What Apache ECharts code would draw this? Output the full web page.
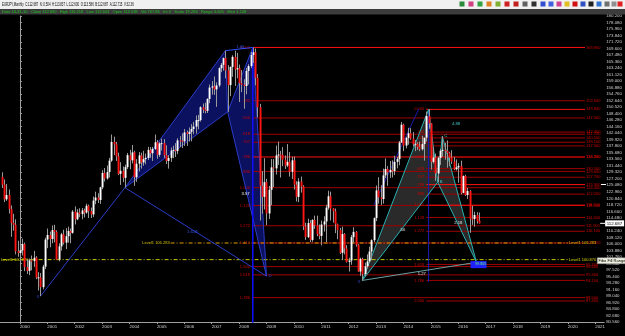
<!DOCTYPE html>
<html><head><meta charset="utf-8">
<script src="https://cdn.jsdelivr.net/npm/echarts@6/dist/echarts.min.js"></script>
<style>html,body{margin:0;padding:0;background:#000}#c{width:625px;height:336px}</style>
</head><body><div id="c"></div><script>
// ---- DATA ----
// month index m = months since Jan 2000; first bar = May 1999 (m = -8)
const firstMonth = -8;
const y1999 = [[127.8,129.3,124.2,125.3],[125.3,127.0,119.6,120.5],[120.5,125.5,120.0,121.9],[121.9,123.7,115.9,117.3],[117.3,118.5,108.3,112.8],[112.8,115.8,110.3,112.2],[112.2,114.0,102.6,103.6],[103.6,107.0,101.8,103.0]];
const y2000 = [[103.0,106.6,100.4,103.9],[103.9,107.7,102.2,105.9],[105.9,106.4,97.1,98.5],[98.5,101.0,96.2,97.2],[97.2,101.2,95.8,100.6],[100.6,102.2,97.4,100.4],[100.4,103.7,98.5,101.5],[101.5,102.0,94.5,95.0],[95.0,96.8,90.8,95.1],[95.1,96.5,88.97,91.9],[91.9,99.2,91.2,98.6],[98.6,108.0,97.8,107.4]];
const y2001 = [[107.4,111.0,104.6,108.9],[108.9,110.0,104.9,107.6],[107.6,112.0,106.2,110.5],[110.5,112.2,106.5,109.9],[109.9,110.4,100.9,100.9],[100.9,106.2,100.3,105.2],[105.2,109.6,103.8,109.1],[109.1,110.6,105.8,106.4],[106.4,111.1,104.3,108.5],[108.5,111.6,106.4,110.2],[110.2,111.0,106.2,109.6],[109.6,117.0,109.3,116.5]];
const y2002 = [[116.5,118.2,112.3,114.0],[114.0,117.3,113.7,116.2],[116.2,117.6,114.7,115.7],[115.7,117.7,114.0,116.9],[116.9,117.5,114.6,116.2],[116.2,119.1,115.8,118.4],[118.4,118.8,114.4,116.7],[116.7,117.8,114.4,115.6],[115.6,121.4,114.7,120.1],[120.1,123.0,118.9,121.1],[121.1,122.5,119.3,120.3],[120.3,124.6,119.0,124.4]];
const y2003 = [[124.4,130.0,123.8,129.1],[129.1,130.7,126.3,127.3],[127.3,131.5,126.9,129.4],[129.4,134.0,127.6,133.1],[133.1,141.6,132.7,139.2],[139.2,140.9,134.9,138.4],[138.4,139.2,133.0,134.5],[134.5,135.7,128.4,128.8],[128.8,132.6,125.2,129.8],[129.8,131.2,126.1,127.5],[127.5,131.8,124.3,131.0],[131.0,135.6,130.4,134.9]];
const y2004 = [[134.9,136.6,130.3,133.2],[133.2,138.2,132.2,135.8],[135.8,136.3,124.9,127.7],[127.7,133.6,126.2,132.1],[132.1,135.9,129.6,134.8],[134.8,135.7,130.5,132.5],[132.5,136.3,131.4,133.6],[133.6,135.4,131.9,134.0],[134.0,137.6,133.3,136.6],[136.6,137.5,134.0,135.5],[135.5,137.6,133.0,136.9],[136.9,141.6,136.6,139.1]];
const y2005 = [[139.1,139.8,133.7,135.0],[135.0,139.1,134.3,138.7],[138.7,140.3,136.4,138.8],[138.8,140.1,134.0,134.9],[134.9,138.1,132.0,133.0],[133.0,134.9,130.5,134.0],[134.0,137.4,132.7,136.4],[136.4,138.0,133.9,136.6],[136.6,138.8,134.3,136.2],[136.2,140.4,135.2,139.7],[139.7,141.1,137.5,139.6],[139.6,142.0,137.2,139.4]];
const y2006 = [[139.4,143.4,137.9,142.3],[142.3,142.9,137.9,141.8],[141.8,143.9,139.3,142.5],[142.5,145.0,139.4,143.4],[143.4,145.7,141.7,144.2],[144.2,147.8,141.9,146.3],[146.3,148.0,143.3,146.3],[146.3,150.8,145.8,150.5],[150.5,151.7,148.6,149.7],[149.7,152.0,148.5,149.3],[149.3,153.4,148.6,153.2],[153.2,157.9,151.8,156.9]];
const y2007 = [[156.9,159.0,154.6,157.3],[157.3,160.5,154.5,156.3],[156.3,158.6,150.6,157.6],[157.6,163.5,157.0,163.2],[163.2,164.9,161.9,164.3],[164.3,166.7,162.4,166.5],[166.5,168.9,159.9,162.5],[162.5,164.2,149.0,157.7],[157.7,163.8,154.1,163.6],[163.6,167.4,160.4,166.9],[166.9,168.9,157.4,162.8],[162.8,168.2,159.9,163.2]];
const y2008 = [[163.2,164.4,152.2,158.3],[158.3,162.6,155.4,157.8],[157.8,159.6,150.0,157.4],[157.4,163.3,154.7,162.3],[162.3,164.5,157.9,163.9],[163.9,168.5,163.2,167.5],[167.5,169.96,164.9,168.4],[168.4,169.6,157.6,160.1],[160.1,161.3,147.2,150.5],[150.5,151.6,113.6,124.9],[124.9,129.7,115.8,121.3],[121.3,133.9,117.2,126.1]];
const y2009 = [[126.1,127.2,112.1,115.9],[115.9,124.9,114.1,123.6],[123.6,133.6,118.6,130.9],[130.9,133.6,124.5,130.6],[130.6,138.0,128.6,134.8],[134.8,139.3,131.7,135.1],[135.1,136.3,127.6,135.0],[135.0,137.5,131.3,133.4],[133.4,134.8,130.4,131.5],[131.5,138.5,131.0,132.7],[132.7,135.9,127.9,129.5],[129.5,134.4,127.1,133.2]];
const y2010 = [[133.2,134.4,123.7,125.3],[125.3,126.4,119.8,121.3],[121.3,127.4,119.6,126.3],[126.3,127.9,122.7,124.7],[124.7,125.1,110.5,111.7],[111.7,112.9,107.3,108.2],[108.2,114.2,107.9,112.8],[112.8,113.7,106.6,107.3],[107.3,114.0,106.7,113.8],[113.8,115.2,110.9,112.0],[112.0,115.2,108.5,109.2],[109.2,112.3,107.5,108.6]];
const y2011 = [[108.6,113.6,105.5,112.3],[112.3,115.0,110.0,113.3],[113.3,118.7,106.6,117.8],[117.8,123.3,117.1,121.5],[121.5,123.0,113.6,117.5],[117.5,117.7,112.9,116.6],[116.6,117.5,109.5,112.4],[112.4,112.6,107.5,110.5],[110.5,111.2,102.7,103.1],[103.1,111.6,100.7,109.2],[109.2,109.5,102.6,104.5],[104.5,105.6,99.9,100.1]];
const y2012 = [[100.1,101.5,97.0,100.6],[100.6,108.9,99.2,108.2],[108.2,111.4,106.4,109.9],[109.9,110.2,105.1,105.7],[105.7,106.0,96.9,97.0],[97.0,101.5,95.6,101.1],[101.1,101.5,94.1,96.2],[96.2,99.9,95.5,98.7],[98.7,102.6,98.0,100.3],[100.3,105.1,99.8,103.5],[103.5,107.5,100.7,107.2],[107.2,114.6,106.6,114.4]];
const y2013 = [[114.4,125.0,113.4,123.4],[123.4,127.7,119.1,121.1],[121.1,125.1,118.7,120.6],[120.6,130.5,119.1,128.3],[128.3,133.8,127.4,130.4],[130.4,131.3,124.9,129.3],[129.3,133.0,127.5,130.1],[130.1,133.2,127.6,129.7],[129.7,134.7,128.4,132.7],[132.7,134.3,130.6,133.6],[133.6,139.5,131.6,139.0],[139.0,145.7,138.9,144.8]];
const y2014 = [[144.8,145.1,136.2,138.0],[138.0,140.9,137.1,140.5],[140.5,143.8,138.3,142.0],[142.0,143.7,139.9,140.3],[140.3,142.4,137.7,138.4],[138.4,139.8,136.2,138.6],[138.6,139.1,136.6,137.6],[137.6,139.3,136.2,136.8],[136.8,141.2,136.4,138.5],[138.5,140.2,133.1,140.6],[140.6,149.1,139.3,147.6],[147.6,149.8,143.5,145.2]];
const y2015 = [[145.2,145.3,130.2,132.7],[132.7,137.5,132.2,134.1],[134.1,135.4,126.5,128.9],[128.9,134.4,126.1,134.0],[134.0,137.0,131.7,136.3],[136.3,141.05,134.4,136.6],[136.6,138.9,133.4,136.3],[136.3,139.7,130.8,135.6],[135.6,136.0,131.3,134.1],[134.1,136.5,132.0,132.8],[132.8,134.3,130.0,130.3],[130.3,133.5,129.9,130.9]];
const y2016 = [[130.9,132.3,125.9,131.4],[131.4,133.1,122.1,122.6],[122.6,128.3,122.5,128.1],[128.1,128.5,121.6,121.9],[121.9,124.2,120.6,123.2],[123.2,123.5,109.6,114.2],[114.2,118.4,112.2,114.1],[114.1,116.5,111.6,115.4],[115.4,116.3,112.6,113.4],[113.54,116.22,112.60,112.69]];

const yearTicks = [0,12,24,36,48,60,72,84,96,108,120,132,144,156,168,180,192,204,216,228,240,252];

// harmonic pattern 1 (blue) points [month, price]
const bigP0 = [9, 88.97], bigP1 = [46, 124.3], bigP2 = [90, 168.9], bigP3 = [91, 149.0], bigP4 = [102, 169.96], bigP5 = [108, 95.5];
// harmonic pattern 2 (teal)
const tX = [150, 94.1], tA = [179, 149.8], tB = [183, 126.1], tC = [185, 141.05], tD = [200, 100.0];
const blueDiag = [[174.7, 149.9], [155, 118.7]];

// fib level sets [price, ratio label]
const fibA = [[169.96,'0.000'],[152.6,'.382'],[147.0,'.500'],[141.7,'.618'],[139.1,'.707'],[134.3,'.786'],[129.6,'.886'],[124.3,'1.000'],[118.5,'1.128'],[111.9,'1.272'],[106.3,'1.414'],[98.6,'1.500'],[95.9,'1.618'],[88.5,'1.786']];
const fibB = [[149.8,'0.000'],[142.4,'.236'],[140.5,'.300'],[137.9,'.382'],[134.2,'.500'],[130.5,'.618'],[127.7,'.707'],[125.3,'.786'],[122.2,'.886'],[118.6,'1.000'],[114.6,'1.128'],[110.1,'1.272'],[99.3,'1.618'],[94.1,'1.786'],[87.4,'2.000']];
const brightA = ['0.000','.786'];
const brightB = ['0.000','.786','1.000'];
const levels = [[106.283,'Level1 106.283'],[100.870,'Level1 100.870']];
const currentPrice = 112.687;

// ---- BUILD ----
const allYears = [y1999,y2000,y2001,y2002,y2003,y2004,y2005,y2006,y2007,y2008,y2009,y2010,y2011,y2012,y2013,y2014,y2015,y2016];
const bars = [];
allYears.forEach(y => y.forEach(r => bars.push(r)));
const candleData = bars.map((r, i) => [firstMonth + i, r[0], r[1], r[2], r[3]]);

const FONT = '"Liberation Sans", Arial, sans-serif';
const xMin = -8.73, xMax = 255.9;
const fibAFrom = 101.6, fibBFrom = 178, fibTo = 247.5;

function seg(api, a, b, stroke, w, dash) {
  const p = api.coord(a), q = api.coord(b);
  return {type:'line', shape:{x1:p[0],y1:p[1],x2:q[0],y2:q[1]}, style:{stroke, lineWidth:w||1, lineDash:dash||null}};
}
function poly(api, pts, fill) {
  return {type:'polygon', shape:{points: pts.map(p => api.coord(p))}, style:{fill}};
}
function txt(api, pt, text, fill, size, align, dx, dy) {
  const p = api.coord(pt);
  return {type:'text', x:p[0]+(dx||0), y:p[1]+(dy||0), style:{text, fill, font: (size||4.4)+'px '+FONT, align: align||'left', verticalAlign:'middle'}};
}
function layer(z, build) {
  return {type:'custom', z, clip:false, silent:true, data:[[0,100]], renderItem:(params, api) => ({type:'group', children: build(api)})};
}

const series = [
  // fills
  layer(1, api => [
    poly(api, [bigP1,bigP2,bigP3], 'rgba(12,18,100,0.95)'),
    poly(api, [bigP3,bigP4,bigP5], 'rgba(12,18,100,0.95)'),
    poly(api, [tX,tA,tB], '#2a2a2a'),
    poly(api, [tB,tC,tD], '#2a2a2a')
  ]),
  // fib lines
  layer(2, api => {
    const out = [];
    fibA.forEach(f => {
      const br = brightA.indexOf(f[1]) >= 0;
      out.push(seg(api, [fibAFrom, f[0]], [fibTo, f[0]], br ? '#ff1010' : '#a00000', 1));
      out.push(txt(api, [fibAFrom, f[0]], f[1], '#d00000', 4, 'right', -2));
      out.push(txt(api, [fibTo, f[0]], f[0].toFixed(3), '#d00000', 4, 'left', 1));
    });
    fibB.forEach(f => {
      const br = brightB.indexOf(f[1]) >= 0;
      out.push(seg(api, [fibBFrom, f[0]], [fibTo, f[0]], br ? '#ff1010' : '#a00000', 1));
      out.push(txt(api, [fibBFrom, f[0]], f[1], '#d00000', 4, 'right', -2));
      out.push(txt(api, [fibTo, f[0]], f[0].toFixed(3), '#d00000', 4, 'left', 1));
    });
    out.push(seg(api, [66, levels[0][0]], [240, levels[0][0]], '#e0a000', 1, [4,2,1,2]));
    out.push(txt(api, [66, levels[0][0]], levels[0][1], '#d8c000', 4, 'right', -1));
    out.push(txt(api, [240, levels[0][0]], levels[0][1], '#d8c000', 4, 'left', 1));
    out.push(seg(api, [-7.6, levels[1][0]], [240, levels[1][0]], '#c8c800', 1, [4,2,1,2]));
    out.push(txt(api, [-8.7, levels[1][0]], levels[1][1], '#d8d800', 4, 'left', 1));
    out.push(txt(api, [240, levels[1][0]], levels[1][1], '#d8d800', 4, 'left', 1));
    return out;
  }),
  // pattern lines
  layer(3, api => {
    const bl = '#2a3cc8';
    const tl = '#2ab0b0';
    return [
      seg(api, bigP0, bigP1, bl), seg(api, bigP1, bigP2, bl), seg(api, bigP2, bigP3, bl), seg(api, bigP1, bigP3, bl),
      seg(api, bigP3, bigP4, bl), seg(api, bigP4, bigP5, bl), seg(api, bigP3, bigP5, bl), seg(api, bigP1, bigP5, bl),
      seg(api, bigP2, bigP4, '#3050ff'),
      seg(api, [bigP4[0], bigP4[1]], [bigP4[0], 80.3], '#1010ff', 1.5),
      seg(api, [tA[0], tA[1]], [tA[0], 93.6], '#1a1ab8', 1),
      seg(api, blueDiag[0], blueDiag[1], '#1a1ab0', 1),
      seg(api, tX, tA, tl), seg(api, tA, tB, tl), seg(api, tX, tB, tl), seg(api, tB, tC, tl),
      seg(api, tC, tD, tl), seg(api, tB, tD, tl), seg(api, tX, tD, '#6aa0a0'),
      {type:'rect', shape:(function(){const a=api.coord([197.4,100.4]), b=api.coord([204.4,98.1]); return {x:a[0],y:a[1],width:b[0]-a[0],height:b[1]-a[1]};})(), style:{fill:'#2222ff'}},
      txt(api, [199.5, 99.3], '99.805', '#60ff60', 3.6, 'left'),
      txt(api, bigP0, 'X', '#3344cc', 4.4, 'right', -1, 1),
      txt(api, [75.5, 109.9], '1.618', '#3355ee', 4.2, 'center'),
      txt(api, [96.5, 170.3], '1.00', '#3355ee', 4.2, 'center'),
      txt(api, [98.8, 122.4], '3.57', '#ffffff', 4.2, 'center'),
      txt(api, bigP5, 'D', '#3344cc', 4.4, 'left', 2),
      txt(api, tX, 'X', '#3344cc', 4.4, 'right', -2, 1),
      txt(api, [191, 145.0], '4.88', '#40c8c8', 4.2, 'center'),
      txt(api, tB, 'B', '#40c8c8', 4.2, 'left', 2),
      txt(api, tC, 'C', '#40c8c8', 4.2, 'left', 2),
      txt(api, [167.5, 110.6], '.56', '#e0e0e0', 4.2, 'center'),
      txt(api, [192, 112.8], '2.18', '#e0e0e0', 4.2, 'center'),
      txt(api, [176, 96.3], '1.27', '#e0e0e0', 4.2, 'center')
    ];
  }),
  // candles
  {type:'custom', z:5, clip:true, silent:true, data: candleData,
   renderItem: (params, api) => {
     const m = api.value(0), o = api.value(1), h = api.value(2), l = api.value(3), c = api.value(4);
     const pH = api.coord([m, h]), pL = api.coord([m, l]), pO = api.coord([m, o]), pC = api.coord([m, c]);
     const x = Math.round(pH[0]);
     const up = c >= o;
     const top = Math.min(pO[1], pC[1]), bh = Math.max(1, Math.abs(pO[1] - pC[1]));
     return {type:'group', children:[
       {type:'line', shape:{x1:x+0.5, y1:pH[1], x2:x+0.5, y2:pL[1]}, style:{stroke:'#9a9a9a', lineWidth:1}},
       {type:'rect', shape:{x:x-0.4, y:top, width:1.9, height:bh}, style:{fill: up ? '#ffffff' : '#ff1414'}}
     ]};
   }
  },
  // current price marker
  layer(6, api => {
    const p = api.coord([xMax, currentPrice]);
    return [
      {type:'rect', shape:{x:p[0]+1, y:p[1]-3, width:19, height:6}, style:{fill:'#ffffff'}},
      {type:'text', x:p[0]+2.5, y:p[1], style:{text: currentPrice.toFixed(3), fill:'#000', font:'4.4px '+FONT, verticalAlign:'middle'}},
      {type:'line', shape:{x1:p[0]-4, y1:p[1], x2:p[0]+1, y2:p[1]}, style:{stroke:'#fff', lineWidth:1}}
    ];
  })
];

const icons = ['#2a8a3a','#d04080','#30a040','#e08020','#80b030','#d02020','#c02020','#606060','#303030','#3050d0','#4060e0','#d04090','#e0c020','#d01010','#3050c0','#202020','#3070d0','#707070','#909090','#e02020'];
const iconX = [462,471,480,489,498,507,516,525,534,543,551,559,567,575,583,591,599,607,614,620];
const graphics = [
  {type:'rect', left:0, top:0, shape:{width:625, height:9}, style:{fill:'#f0f0f0'}, z:10},
  {type:'rect', left:0, top:9, shape:{width:625, height:5.5}, style:{fill:'#3c3c3c'}, z:10},
  {type:'text', left:2, top:2, style:{text:'EURJPY,Monthly  C:112.687  N: 0.504  H:113.837  L:112.600  O:113.586  B:112.687  A:112.715  V:32.36', fill:'#000', font:'4.6px '+FONT}, scaleX:0.62, z:11},
  {type:'text', left:2, top:9.8, style:{text:'Date 16-31-10   Close 112.690   High 116.218   Low 112.603   Open 113.538   Vol 767.86   Int 0   Scale 19.284   Range 3.665   Mert 1.148', fill:'#1ec81e', font:'4px '+FONT}, z:11},
  {type:'rect', left:597, top:257.5, shape:{width:28, height:6}, style:{fill:'#f0f0e0', stroke:'#808080', lineWidth:0.5}, z:12},
  {type:'text', left:598.5, top:258.6, style:{text:'Fibo Fill Range', fill:'#000', font:'4px '+FONT}, z:13},
  {type:'line', shape:{x1:601, y1:184.5, x2:606, y2:184.5}, style:{stroke:'#fff', lineWidth:1}, z:12}
];
iconX.forEach((x, i) => graphics.push({type:'rect', left:x-2.5, top:1.5, shape:{width:5, height:5}, style:{fill:icons[i]}, z:11}));

const chart = echarts.init(document.getElementById('c'), null, {renderer:'canvas', width:625, height:336});
chart.setOption({
  animation:false,
  backgroundColor:'#000',
  grid:{left:0, right:19, top:16, bottom:14},
  xAxis:{type:'value', min:xMin, max:xMax,
    axisLine:{show:true, lineStyle:{color:'#a0a0a0', width:1}},
    axisTick:{show:true, length:2, customValues:yearTicks, lineStyle:{color:'#a0a0a0'}},
    axisLabel:{show:true, customValues:yearTicks, align:'left', margin:3, color:'#d0d0d0', fontSize:4.4, fontFamily:'Liberation Sans', formatter: v => String(2000 + Math.round(v/12))},
    splitLine:{show:false}},
  yAxis:{type:'value', position:'right', min:80.56, max:180.2, interval:2.12,
    axisLine:{show:true, lineStyle:{color:'#a0a0a0', width:1}},
    axisTick:{show:true, length:2, lineStyle:{color:'#a0a0a0'}},
    axisLabel:{show:true, margin:2, color:'#d0d0d0', fontSize:4.4, fontFamily:'Liberation Sans', formatter: v => v.toFixed(3)},
    splitLine:{show:false}},
  graphic: graphics,
  series
});
</script></body></html>
